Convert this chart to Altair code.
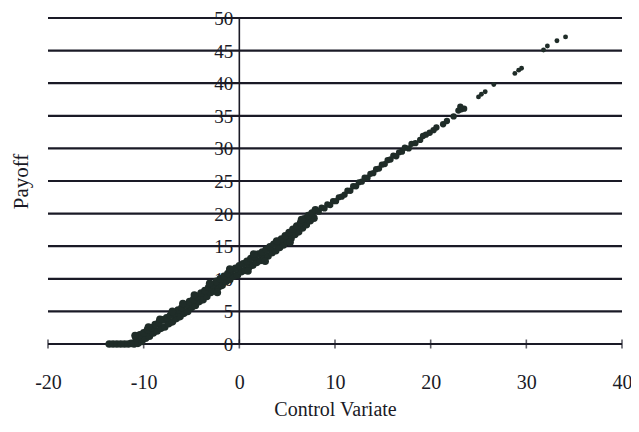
import altair as alt
import pandas as pd

# ---- data ----
cv = [
    # flat run at zero payoff
    -13.6, -13.2, -12.8, -12.4, -12.0, -11.6, -11.3,
    # dense band, lower row
    -11.0, -10.6, -10.2, -9.8, -9.4, -9.0, -8.6, -8.2, -7.8, -7.4, -7.0, -6.6,
    -6.2, -5.8, -5.4, -5.0, -4.6, -4.2, -3.8, -3.4, -3.0, -2.6, -2.2, -1.8,
    -1.4, -1.0, -0.6, -0.2, 0.2, 0.6, 1.0, 1.4, 1.8, 2.2, 2.6, 3.0,
    3.4, 3.8, 4.2, 4.6, 5.0, 5.4, 5.8, 6.2, 6.6, 7.0, 7.4, 7.8,
    # dense band, upper row
    -10.8, -10.4, -10.0, -9.6, -9.2, -8.8, -8.4, -8.0, -7.6, -7.2, -6.8, -6.4,
    -6.0, -5.6, -5.2, -4.8, -4.4, -4.0, -3.6, -3.2, -2.8, -2.4, -2.0, -1.6,
    -1.2, -0.8, -0.4, 0.0, 0.4, 0.8, 1.2, 1.6, 2.0, 2.4, 2.8, 3.2,
    3.6, 4.0, 4.4, 4.8, 5.2, 5.6, 6.0, 6.4, 6.8, 7.2, 7.6, 7.95,
    # jagged outliers of the band
    -10.9, -9.5, -8.3, -7.0, -5.9, -4.7, -3.1, -2.3, -1.0, 0.9, 1.5, 2.7,
    3.9, 5.3, 6.5,
    # thinner band
    8.3, 8.6, 8.9, 9.2, 9.5, 9.8, 10.1, 10.4, 10.7, 11.0, 11.3, 11.6,
    11.9, 12.2, 12.5, 12.8, 13.1, 13.4, 13.7, 14.0, 14.3, 14.6, 14.9, 15.2,
    15.5, 15.8, 16.1, 16.4, 16.7, 17.0, 17.3, 17.7, 18.0, 18.4, 18.9, 19.2,
    19.5, 19.9, 20.3, 20.6, 21.3, 21.7, 22.4, 22.9, 23.2, 23.5, 23.1,
    # sparse tail
    25.0, 25.3, 25.7, 26.6, 28.8, 29.2, 29.5, 31.8, 32.2, 33.2, 34.1,
]
payoff = [
    0.0, 0.0, 0.0, 0.0, 0.0, 0.0, 0.1,
    0.0, 0.1, 0.4, 0.9, 1.2, 1.7, 2.0, 2.4, 2.6, 3.1, 3.4, 3.9,
    4.2, 4.7, 5.0, 5.6, 5.9, 6.5, 6.8, 7.3, 7.9, 8.2, 8.7, 9.0,
    9.6, 9.9, 10.4, 10.6, 11.1, 11.3, 11.8, 12.1, 12.5, 12.8, 13.2, 13.5,
    14.0, 14.3, 14.8, 15.2, 15.8, 16.2, 16.8, 17.2, 17.8, 18.3, 18.9, 19.3,
    0.9, 1.4, 1.7, 2.2, 2.5, 3.0, 3.3, 3.7, 4.0, 4.4, 4.7, 5.2,
    5.6, 6.0, 6.5, 6.8, 7.3, 7.8, 8.2, 8.7, 9.1, 9.6, 10.0, 10.4,
    10.8, 11.3, 11.6, 12.0, 12.3, 12.7, 13.1, 13.4, 13.8, 14.1, 14.5, 14.9,
    15.3, 15.7, 16.1, 16.6, 17.1, 17.6, 18.1, 18.6, 19.2, 19.7, 20.1, 20.6,
    1.3, 2.6, 3.8, 5.0, 6.2, 7.5, 9.3, 7.9, 11.5, 11.2, 13.8, 12.7,
    15.8, 15.6, 19.1,
    20.3, 20.9, 20.8, 21.4, 21.3, 21.9, 21.9, 22.5, 22.6, 22.9, 23.5, 23.5,
    24.2, 24.2, 24.8, 24.9, 25.5, 25.5, 26.1, 26.2, 26.8, 26.9, 27.5, 27.6,
    28.2, 28.3, 28.9, 28.8, 29.4, 29.5, 30.1, 30.0, 30.7, 30.8, 31.3, 31.9,
    32.1, 32.4, 32.8, 33.2, 33.7, 34.2, 34.9, 35.8, 36.0, 36.1, 36.4,
    37.9, 38.3, 38.7, 39.8, 41.5, 42.0, 42.3, 45.1, 45.7, 46.5, 47.1,
]
y_ticks = [0, 5, 10, 15, 20, 25, 30, 35, 40, 45, 50]
x_ticks = [-20, -10, 0, 10, 20, 30, 40]
y_axis_at_x = 0   # the payoff axis crosses the control-variate axis at 0

FONT = "Liberation Serif"
INK = "#1a1a26"
DOT = "#1f2c28"

df = pd.DataFrame({"x": cv, "y": payoff})
grid_df = pd.DataFrame({"y": y_ticks, "x": [y_axis_at_x] * len(y_ticks)})
xt_df = pd.DataFrame({"x": x_ticks, "y": [0] * len(x_ticks)})
vline_df = pd.DataFrame({"x": [y_axis_at_x], "y": [min(y_ticks)], "y2": [max(y_ticks)]})

xscale = alt.Scale(domain=[-20, 40], nice=False, zero=False)
yscale = alt.Scale(domain=[0, 50], nice=False, zero=False)

x_axis = alt.Axis(values=x_ticks, title="Control Variate", domain=False,
                  ticks=False, tickSize=0, grid=False, labelPadding=28,
                  labelFlush=False,
                  labelExpr="datum.value < 0 ? '-' + abs(datum.value) : '' + datum.value",
                  labelFont=FONT, labelFontSize=20, labelColor=INK,
                  titleFont=FONT, titleFontSize=20, titleFontWeight="normal",
                  titleColor=INK, titlePadding=7)
y_axis = alt.Axis(title="Payoff", labels=False, ticks=False, tickSize=0, domain=False,
                  grid=False, titleFont=FONT, titleFontSize=21,
                  titleFontWeight="normal", titleColor=INK, titlePadding=17)

X = alt.X("x:Q", scale=xscale, axis=x_axis)
Y = alt.Y("y:Q", scale=yscale, axis=y_axis)

grid = alt.Chart(grid_df).mark_rule(color=INK, strokeWidth=2.2).encode(y=Y)

vline = alt.Chart(vline_df).mark_rule(color=INK, strokeWidth=1.6).encode(
    x=X, y=Y, y2="y2:Q",
)

ylabels = alt.Chart(grid_df).mark_text(
    align="right", baseline="middle", dx=-6, dy=1, font=FONT, fontSize=19, color=INK
).encode(x=X, y=Y, text=alt.Text("y:Q"))

xticks = alt.Chart(xt_df).mark_tick(orient="vertical", size=9, thickness=1.6, color=INK).encode(
    x=X, y=Y,
)

dense = alt.Chart(df).transform_filter("datum.x < 8").mark_circle(
    size=58, color=DOT, opacity=1).encode(x=X, y=Y)
thin = alt.Chart(df).transform_filter("datum.x >= 8 && datum.x < 24").mark_circle(
    size=40, color=DOT, opacity=1).encode(x=X, y=Y)
tail = alt.Chart(df).transform_filter("datum.x >= 24").mark_circle(
    size=24, color=DOT, opacity=1).encode(x=X, y=Y)

chart = alt.layer(grid, vline, xticks, ylabels, dense, thin, tail).properties(
    width=574, height=326,
    autosize=alt.AutoSizeParams(type="none"),
    padding={"left": 40, "top": 10, "right": 9, "bottom": 80},
    background="white",
).configure_view(stroke=None)

chart.save("out.html", embed_options={"renderer": "svg", "actions": False})
